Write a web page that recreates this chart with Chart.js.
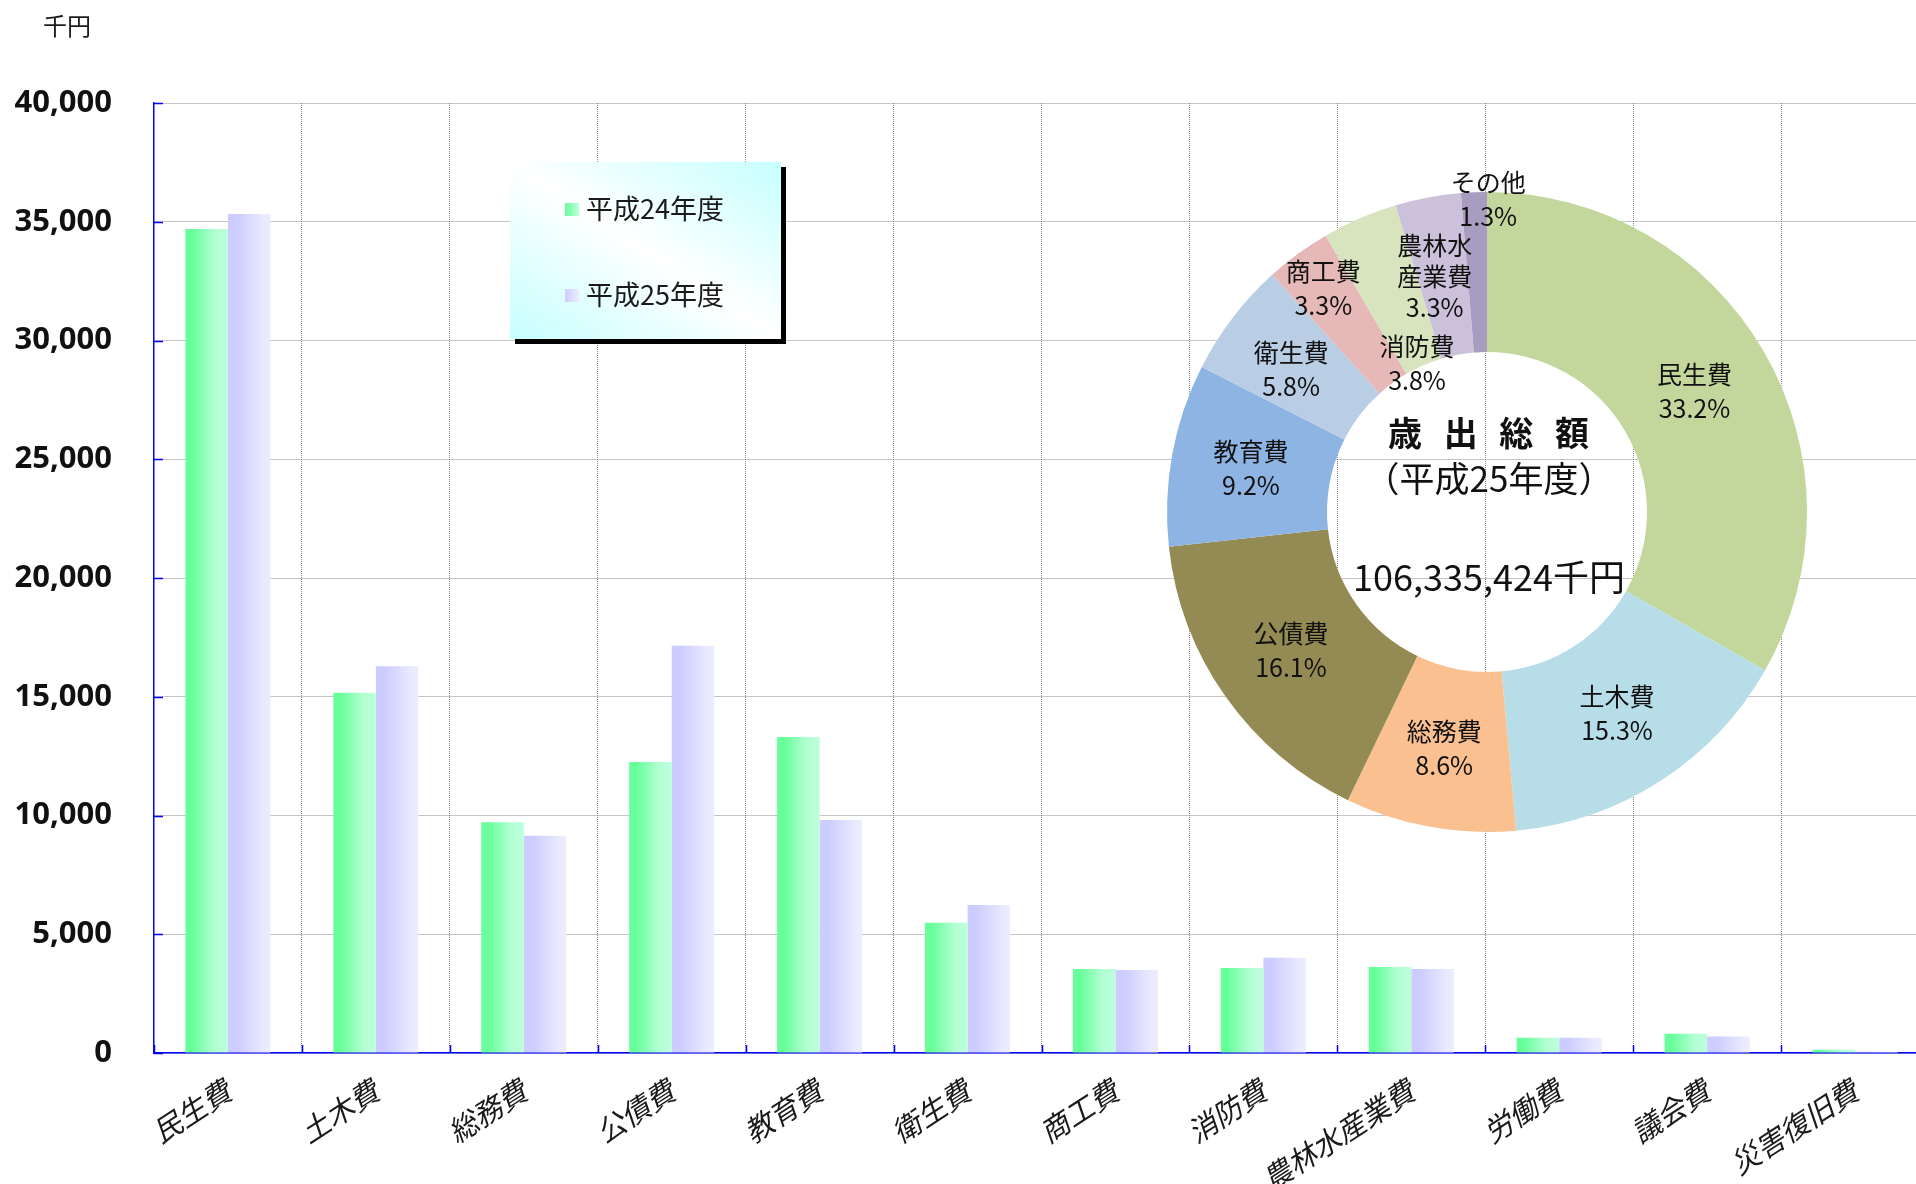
<!DOCTYPE html>
<html lang="ja">
<head>
<meta charset="utf-8">
<title>歳出総額</title>
<script src="https://cdn.jsdelivr.net/npm/chart.js@4.4.1/dist/chart.umd.min.js"></script>
<style>
    html, body { margin: 0; padding: 0; background: #fff; overflow: hidden; }
    #wrap { position: relative; width: 1916px; height: 1184px; overflow: hidden; }
    #barCanvas { position: absolute; left: 0; top: 0; }
    #pieCanvas { position: absolute; left: 1107px; top: 132px; }
    #legend {
        position: absolute; left: 510px; top: 162px; width: 271px; height: 177px;
        background: linear-gradient(to top right, #c6ffff 0%, #ffffff 50%, #c6ffff 100%);
        box-shadow: 5px 5px 0 #000;
        font-family: "Noto Sans CJK JP", sans-serif; font-size: 27px; color: #1a1a1a;
    }
    #legend .item { position: absolute; left: 55px; height: 30px; line-height: 30px; white-space: nowrap; }
    #legend .box { display: inline-block; width: 14px; height: 13px; vertical-align: middle; margin-right: 7px; position: relative; top: -2px; }
</style>
</head>
<body>
<div id="wrap">
    <canvas id="barCanvas" width="1932" height="1184"></canvas>
    <canvas id="pieCanvas" width="760" height="760"></canvas>
    <div id="legend"></div>
</div>
<script>
// 費目
const categories = ['民生費', '土木費', '総務費', '公債費', '教育費', '衛生費', '商工費', '消防費', '農林水産業費', '労働費', '議会費', '災害復旧費'];
const seriesNames = ['平成24年度', '平成25年度'];
// 千円
const valuesH24 = [34700, 15170, 9720, 12250, 13310, 5480, 3540, 3580, 3620, 645, 815, 140];
const valuesH25 = [35330, 16280, 9150, 17150, 9810, 6230, 3500, 4010, 3540, 645, 690, 50];
const yTicks = [0, 5000, 10000, 15000, 20000, 25000, 30000, 35000, 40000];

// 歳出総額（平成25年度）
const pieLabels = ['民生費', '土木費', '総務費', '公債費', '教育費', '衛生費', '商工費', '消防費', '農林水産業費', 'その他'];
const piePercent = [33.2, 15.3, 8.6, 16.1, 9.2, 5.8, 3.3, 3.8, 3.3, 1.3];
const totalAmount = 106335424;

const pieColors = ['#c3d69b', '#b7dee8', '#fac090', '#948a54', '#8eb4e3', '#b9cde5', '#e6b9b8', '#d7e4bd', '#ccc1da', '#a89cc0'];
// label placement (distance from centre, px) and small nudges
const pieLabelRadius = [240, 240, 240, 240, 240, 244, 277, 166, 240, 313];
const pieLabelDx = [0, 0, 0, 0, 0, -2, 0, -4, -8, 14];
const pieLabelDy = [0, 0, 0, 0, 0, 6, 0, 4, 0, 0];

const greenStops = [[0, '#66ff99'], [0.15, '#66ff99'], [0.7, '#b3ffd3'], [1, '#bdffdc']];
const purpleStops = [[0, '#ccccff'], [0.2, '#ccccff'], [0.8, '#e8e8ff'], [1, '#ededff']];
const groupPct = 0.575;

function barGradient(context, stops) {
    const chart = context.chart;
    const xs = chart.scales.x;
    if (!xs || context.dataIndex === undefined || !xs.width) {
        return stops[0][1];
    }
    const catW = xs.width / categories.length;
    const barW = catW * groupPct / 2;
    const left = xs.getPixelForValue(context.dataIndex) - catW * groupPct / 2 + context.datasetIndex * barW;
    const g = chart.ctx.createLinearGradient(left, 0, left + barW, 0);
    stops.forEach(([o, c]) => g.addColorStop(o, c));
    return g;
}

// blue tick marks drawn inside the plot, plus the 千円 unit label
const axisExtras = {
    id: 'axisExtras',
    afterDraw(chart) {
        const { ctx, chartArea, scales: { x, y } } = chart;
        ctx.save();
        ctx.strokeStyle = '#0000ff';
        ctx.lineWidth = 1.5;
        ctx.beginPath();
        y.ticks.forEach((t, i) => {
            const py = Math.round(y.getPixelForTick(i)) + 0.5;
            ctx.moveTo(chartArea.left, py);
            ctx.lineTo(chartArea.left + 9, py);
        });
        for (let i = 0; i <= categories.length; i++) {
            const px = Math.round(x.getPixelForValue(i - 0.5)) + 0.5;
            ctx.moveTo(px, chartArea.bottom);
            ctx.lineTo(px, chartArea.bottom - 8);
        }
        ctx.stroke();
        ctx.fillStyle = '#1a1a1a';
        ctx.font = '24px "Noto Sans CJK JP"';
        ctx.textAlign = 'center';
        ctx.textBaseline = 'middle';
        ctx.fillText('千円', 67, 26);
        ctx.restore();
    }
};

new Chart(document.getElementById('barCanvas'), {
    type: 'bar',
    data: {
        labels: categories,
        datasets: [
            { label: seriesNames[0], data: valuesH24, backgroundColor: (c) => barGradient(c, greenStops), borderWidth: 0 },
            { label: seriesNames[1], data: valuesH25, backgroundColor: (c) => barGradient(c, purpleStops), borderWidth: 0 },
        ],
    },
    options: {
        responsive: false,
        animation: false,
        events: [],
        layout: { padding: { top: 103, left: 0, right: 3, bottom: 0 } },
        datasets: { bar: { categoryPercentage: groupPct, barPercentage: 1 } },
        plugins: { legend: { display: false }, tooltip: { enabled: false } },
        scales: {
            x: {
                afterFit: (scale) => { scale.height = 131; },
                grid: { color: '#8a8a8a', lineWidth: 1, drawTicks: false, offset: true },
                border: { color: '#0000ff', width: 1.5, dash: [1, 1] },
                ticks: {
                    autoSkip: false,
                    minRotation: 33,
                    maxRotation: 33,
                    padding: 20,
                    color: '#1a1a1a',
                    font: { family: '"Noto Sans CJK JP"', size: 29, style: 'italic' },
                },
            },
            y: {
                min: 0,
                max: 40000,
                afterFit: (scale) => { scale.width = 154; },
                afterBuildTicks: (scale) => { scale.ticks = yTicks.map(v => ({ value: v })); },
                grid: { color: '#8a8a8a', lineWidth: 1, drawTicks: false },
                border: { color: '#0000ff', width: 1.5, dash: [1, 1] },
                ticks: {
                    padding: 42,
                    color: '#111',
                    font: { family: '"Noto Sans", sans-serif', size: 31, weight: 'bold' },
                    callback: (v) => Number(v).toLocaleString('en-US'),
                },
            },
        },
    },
    plugins: [axisExtras],
});

// labels on the doughnut slices
const pieLabelPlugin = {
    id: 'pieLabels',
    afterDatasetsDraw(chart) {
        const ctx = chart.ctx;
        const meta = chart.getDatasetMeta(0);
        ctx.save();
        ctx.fillStyle = '#111';
        ctx.font = '25px "Noto Sans CJK JP"';
        ctx.textAlign = 'center';
        ctx.textBaseline = 'middle';
        meta.data.forEach((arc, i) => {
            const { x, y, startAngle, endAngle } = arc.getProps(['x', 'y', 'startAngle', 'endAngle'], true);
            const mid = (startAngle + endAngle) / 2;
            const cx = x + Math.cos(mid) * pieLabelRadius[i] + pieLabelDx[i];
            const cy = y + Math.sin(mid) * pieLabelRadius[i] + pieLabelDy[i];
            const name = pieLabels[i];
            const lines = name.length > 4 ? [name.slice(0, 3), name.slice(3)] : [name];
            lines.push(piePercent[i].toFixed(1) + '%');
            const step = lines.length > 2 ? 31 : 34;
            const y0 = cy - step * (lines.length - 1) / 2;
            lines.forEach((t, k) => ctx.fillText(t, cx, y0 + k * step));
        });
        ctx.restore();
    }
};

const centerText = {
    id: 'centerText',
    afterDraw(chart) {
        const ctx = chart.ctx;
        const arc = chart.getDatasetMeta(0).data[0];
        const cx = arc.x + 2;
        const cy = arc.y;
        ctx.save();
        ctx.fillStyle = '#111';
        ctx.textAlign = 'center';
        ctx.textBaseline = 'middle';
        ctx.font = 'bold 34px "Noto Sans CJK JP"';
        ctx.letterSpacing = '7px';
        ctx.fillText('歳 出 総 額', cx + 3, cy - 79);
        ctx.letterSpacing = '0px';
        ctx.font = '35px "Noto Sans CJK JP"';
        ctx.fillText('（平成25年度）', cx, cy - 33);
        ctx.font = '36px "Noto Sans CJK JP"';
        ctx.fillText(totalAmount.toLocaleString('en-US') + '千円', cx, cy + 65);
        ctx.restore();
    }
};

new Chart(document.getElementById('pieCanvas'), {
    type: 'doughnut',
    data: {
        labels: pieLabels,
        datasets: [{ data: piePercent, backgroundColor: pieColors, borderWidth: 0 }],
    },
    options: {
        responsive: false,
        animation: false,
        events: [],
        cutout: '50%',
        layout: { padding: 60 },
        plugins: { legend: { display: false }, tooltip: { enabled: false } },
    },
    plugins: [pieLabelPlugin, centerText],
});

// legend box
const legendEl = document.getElementById('legend');
const legendSwatches = [
    'linear-gradient(to right, #66ff99, #bdffdc)',
    'linear-gradient(to right, #ccccff, #ededff)',
];
const legendTops = [31, 117];
seriesNames.forEach((name, i) => {
    const item = document.createElement('div');
    item.className = 'item';
    item.style.top = legendTops[i] + 'px';
    const box = document.createElement('span');
    box.className = 'box';
    box.style.background = legendSwatches[i];
    item.appendChild(box);
    item.appendChild(document.createTextNode(name));
    legendEl.appendChild(item);
});
</script>
</body>
</html>
